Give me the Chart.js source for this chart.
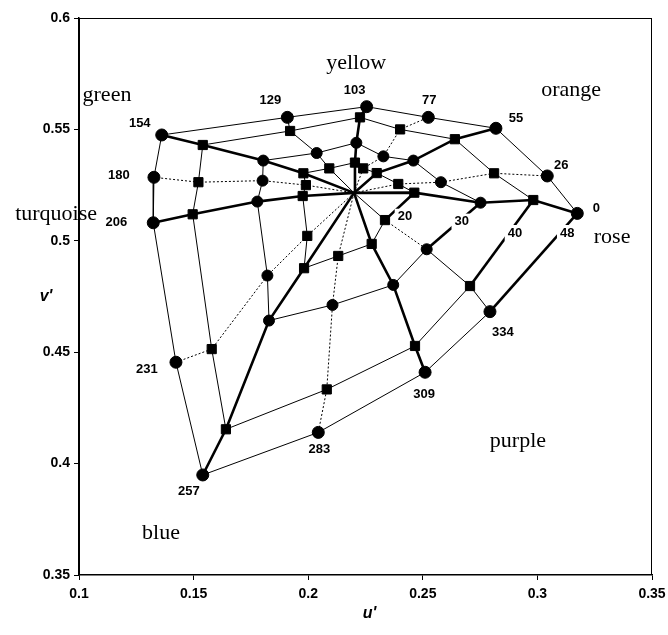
<!DOCTYPE html>
<html><head><meta charset="utf-8">
<script src="https://cdn.jsdelivr.net/npm/chart.js@4.4.0/dist/chart.umd.min.js"></script>
<style>html,body{margin:0;padding:0;background:#fff;}#wrap{width:668px;height:635px;}</style>
</head><body><div id="wrap"><canvas id="c" width="668" height="635"></canvas></div>
<script>
// ---- data (u', v') ----
const hues = [0, 26, 55, 77, 103, 129, 154, 180, 206, 231, 257, 283, 309, 334];
const chromaLevels = [20, 30, 40, 48];
const whiteU = 0.2200, whiteV = 0.5215;
const u20 = [0.2463,0.2393,0.2299,0.2240,0.2204,0.2092,0.1979,0.1990,0.1976,0.1996,0.1982,0.2131,0.2277,0.2335];
const v20 = [0.5216,0.5255,0.5304,0.5325,0.5351,0.5325,0.5303,0.5250,0.5201,0.5022,0.4877,0.4932,0.4986,0.5093];
const u30 = [0.2752,0.2579,0.2459,0.2328,0.2210,0.2037,0.1804,0.1801,0.1778,0.1822,0.1829,0.2106,0.2371,0.2517];
const v30 = [0.5171,0.5263,0.5360,0.5379,0.5440,0.5394,0.5360,0.5270,0.5176,0.4844,0.4642,0.4712,0.4802,0.4962];
const u40 = [0.2982,0.2811,0.2640,0.2401,0.2226,0.1921,0.1540,0.1521,0.1496,0.1579,0.1641,0.2081,0.2466,0.2706];
const v40 = [0.5183,0.5303,0.5456,0.5500,0.5554,0.5493,0.5430,0.5263,0.5119,0.4514,0.4154,0.4333,0.4528,0.4797];
const u48 = [0.3174,0.3043,0.2819,0.2524,0.2255,0.1909,0.1361,0.1327,0.1324,0.1423,0.1540,0.2044,0.2510,0.2793];
const v48 = [0.5123,0.5291,0.5505,0.5554,0.5602,0.5554,0.5475,0.5285,0.5081,0.4455,0.3949,0.4140,0.4410,0.4682];
const xTickValues = [0.1, 0.15, 0.2, 0.25, 0.3, 0.35];
const xTickLabels = ['0.1', '0.15', '0.2', '0.25', '0.3', '0.35'];
const yTickValues = [0.35, 0.4, 0.45, 0.5, 0.55, 0.6];
const yTickLabels = ['0.35', '0.4', '0.45', '0.5', '0.55', '0.6'];
const colourNames = ['yellow', 'green', 'orange', 'turquoise', 'rose', 'purple', 'blue'];
const colourNameU = [0.2209, 0.1122, 0.3147, 0.0900, 0.3326, 0.2915, 0.1358];
const colourNameV = [0.5798, 0.5654, 0.5677, 0.5120, 0.5017, 0.4101, 0.3689];
const chromaLabelU = [0.2422, 0.2670, 0.2902, 0.3130];
const chromaLabelV = [0.5108, 0.5086, 0.5035, 0.5035];

// ---- styles ----
const thickHues = [0, 55, 103, 154, 206, 257, 309];
const dottedHues = [26, 77, 180, 231, 283];
const hueLabelOffset = {0:[19,-5],26:[14,-11],55:[20,-10],77:[1,-17],103:[-12,-16],129:[-17,-17],154:[-22,-12],180:[-35,-2],206:[-37,0],231:[-29,7],257:[-14,16],283:[1,17],309:[-1,22],334:[13,21]};
const SANS = '"Liberation Sans", Arial, sans-serif';
const SERIF = '"Liberation Serif", "Times New Roman", serif';

const pts = (us, vs) => hues.map((h, i) => ({x: us[i], y: vs[i]}));

const spokes = hues.map((h, i) => ({
  data: [{x: whiteU, y: whiteV}, {x: u20[i], y: v20[i]}, {x: u30[i], y: v30[i]}, {x: u40[i], y: v40[i]}, {x: u48[i], y: v48[i]}],
  showLine: true, borderColor: '#000', pointRadius: 0, order: 2,
  borderWidth: thickHues.includes(h) ? 2.6 : 1,
  borderDash: dottedHues.includes(h) ? [2, 2] : [],
  segment: h === 334 ? {borderDash: ctx => ctx.p0DataIndex === 1 ? [2, 2] : []} : {}
}));
const rings = [[u20, v20], [u30, v30], [u40, v40], [u48, v48]].map(([us, vs]) => ({
  data: pts(us, vs).concat([{x: us[0], y: vs[0]}]),
  showLine: true, borderColor: '#000', borderWidth: 1, pointRadius: 0, order: 2,
  segment: {borderWidth: ctx => ctx.p0DataIndex === hues.length - 1 ? 2.6 : 1}
}));
const markers = [
  {data: pts(u20, v20), pointStyle: 'rect', pointRadius: 6.5},
  {data: pts(u30, v30), pointStyle: 'circle', pointRadius: 5.5},
  {data: pts(u40, v40), pointStyle: 'rect', pointRadius: 6.5},
  {data: pts(u48, v48), pointStyle: 'circle', pointRadius: 6}
].map(d => Object.assign(d, {showLine: false, backgroundColor: '#000', borderColor: '#000', borderWidth: 1, order: 0}));

const textPlugin = {
  id: 'texts',
  beforeDraw(chart) {
    const ctx = chart.ctx; ctx.save(); ctx.fillStyle = '#fff'; ctx.fillRect(0, 0, chart.width, chart.height); ctx.restore();
  },
  afterDatasetsDraw(chart) {
    const {ctx, chartArea: a} = chart; const sx = chart.scales.x, sy = chart.scales.y;
    ctx.save();
    ctx.strokeStyle = '#000'; ctx.lineWidth = 1;
    ctx.strokeRect(a.left + 0.5, a.top + 0.5, a.right - a.left - 1, a.bottom - a.top - 1);
    ctx.textAlign = 'center'; ctx.textBaseline = 'middle';
    // chroma labels with white background
    ctx.font = 'bold 13px ' + SANS;
    chromaLevels.forEach((c, i) => {
      const px = sx.getPixelForValue(chromaLabelU[i]), py = sy.getPixelForValue(chromaLabelV[i]);
      const w = ctx.measureText(String(c)).width;
      ctx.fillStyle = '#fff'; ctx.fillRect(px - w / 2 - 3, py - 8, w + 6, 16);
      ctx.fillStyle = '#000'; ctx.fillText(String(c), px, py);
    });
    // hue labels
    hues.forEach((h, i) => {
      const o = hueLabelOffset[h];
      ctx.fillText(String(h), sx.getPixelForValue(u48[i]) + o[0], sy.getPixelForValue(v48[i]) + o[1]);
    });
    // colour names
    ctx.font = '22px ' + SERIF;
    colourNames.forEach((n, i) => ctx.fillText(n, sx.getPixelForValue(colourNameU[i]), sy.getPixelForValue(colourNameV[i])));
    // axis titles
    ctx.font = 'italic bold 16px ' + SANS;
    ctx.fillText("u'", (a.left + a.right) / 2 + 4, 614);
    ctx.fillText("v'", 46, (a.top + a.bottom) / 2);
    ctx.restore();
  }
};

const tickFont = {family: SANS, size: 14, weight: 'bold'};
new Chart(document.getElementById('c'), {
  type: 'scatter',
  data: {datasets: markers.concat(rings, spokes)},
  options: {
    responsive: false, animation: false, devicePixelRatio: 1, events: [],
    layout: {padding: {top: 18, right: 16, left: 0, bottom: 0}},
    plugins: {legend: {display: false}, tooltip: {enabled: false}},
    scales: {
      x: {type: 'linear', min: 0.1, max: 0.35,
        afterBuildTicks: s => { s.ticks = xTickValues.map(v => ({value: v})); },
        afterFit: s => { s.height = 60; s.paddingLeft = 0; s.paddingRight = 0; },
        ticks: {callback: (v, i) => xTickLabels[i], font: tickFont, color: '#000', padding: 6, maxRotation: 0, autoSkip: false},
        grid: {drawOnChartArea: false, drawTicks: true, tickLength: 5, color: '#000'},
        border: {display: true, color: '#000', width: 1.5}},
      y: {type: 'linear', min: 0.35, max: 0.6,
        afterBuildTicks: s => { s.ticks = yTickValues.map(v => ({value: v})); },
        afterFit: s => { s.width = 79; s.paddingTop = 0; s.paddingBottom = 0; },
        ticks: {callback: (v, i) => yTickLabels[i], font: tickFont, color: '#000', padding: 4, autoSkip: false},
        grid: {drawOnChartArea: false, drawTicks: true, tickLength: 5, color: '#000'},
        border: {display: true, color: '#000', width: 1.5}}
    }
  },
  plugins: [textPlugin]
});
</script></body></html>
